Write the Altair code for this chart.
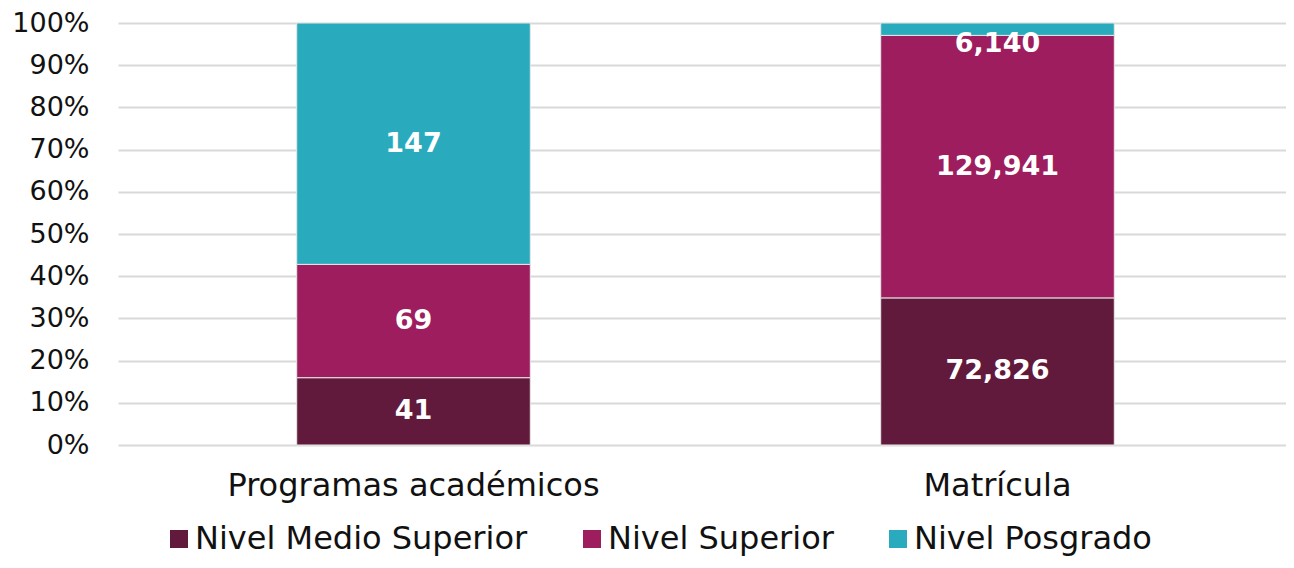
import altair as alt
import pandas as pd

categories = ["Programas académicos", "Matrícula"]
levels = ["Nivel Medio Superior", "Nivel Superior", "Nivel Posgrado"]
programas = [41, 69, 147]
matricula = [72826, 129941, 6140]
colors = ["#621a3c", "#9d1d5e", "#2aabbd"]

rows = []
for cat, vals in zip(categories, [programas, matricula]):
    for i, (lvl, v) in enumerate(zip(levels, vals)):
        rows.append({"cat": cat, "level": lvl, "order": i, "value": v,
                     "label": f"{v:,}"})
df = pd.DataFrame(rows)

FONT = "DejaVu Sans"

base = alt.Chart(df).transform_joinaggregate(
    total="sum(value)", groupby=["cat"]
).transform_stack(
    stack="value", groupby=["cat"], sort=[alt.SortField("order", order="ascending")],
    as_=["v0", "v1"]
).transform_calculate(
    p0="datum.v0 / datum.total",
    p1="datum.v1 / datum.total",
    pm="(datum.v0 + datum.v1) / 2 / datum.total",
)

xscale = alt.Scale(paddingInner=0.6, paddingOuter=0.3, align=0.51)

x = alt.X("cat:N", sort=categories, title=None, scale=xscale,
          axis=alt.Axis(labelAngle=0, labelFontSize=32, labelFont=FONT,
                        labelColor="#111111", ticks=False, domain=False,
                        labelPadding=25, labelLimit=800))

bars = base.mark_bar(stroke="#e8e8e8", strokeWidth=1).encode(
    x=x,
    y=alt.Y("p0:Q", title=None,
            scale=alt.Scale(domain=[0, 1], nice=False),
            axis=alt.Axis(format=".0%", values=[i / 10 for i in range(11)],
                          labelFontSize=27, labelFont=FONT, labelColor="#111111",
                          ticks=False, domain=False, labelPadding=29,
                          gridColor="#d9d9d9", gridWidth=2)),
    y2="p1:Q",
    color=alt.Color("level:N", sort=levels, title=None,
                    scale=alt.Scale(domain=levels, range=colors),
                    legend=alt.Legend(orient="none", direction="horizontal",
                                      legendX=45, legendY=500,
                                      symbolType="square", symbolSize=324,
                                      symbolStrokeWidth=0,
                                      labelFontSize=32, labelFont=FONT,
                                      labelColor="#111111", columnPadding=48,
                                      labelOffset=0, labelLimit=800)),
)

text_main = base.transform_filter(
    "!(datum.cat == 'Matrícula' && datum.level == 'Nivel Posgrado')"
).mark_text(color="white", fontWeight="bold", fontSize=27, font=FONT,
            baseline="middle").encode(
    x=alt.X("cat:N", sort=categories, scale=xscale),
    y="pm:Q",
    text="label:N",
)

text_small = base.transform_filter(
    "datum.cat == 'Matrícula' && datum.level == 'Nivel Posgrado'"
).mark_text(color="white", fontWeight="bold", fontSize=27, font=FONT,
            baseline="middle", dy=15).encode(
    x=alt.X("cat:N", sort=categories, scale=xscale),
    y="pm:Q",
    text="label:N",
)

chart = alt.layer(bars, text_main, text_small).properties(
    width=1168, height=422,
    autosize=alt.AutoSizeParams(type="none"),
    padding={"left": 110, "top": 15, "right": 0, "bottom": 115},
).configure_view(stroke=None)

chart.save("out.html", embed_options={"renderer": "svg", "actions": False})
